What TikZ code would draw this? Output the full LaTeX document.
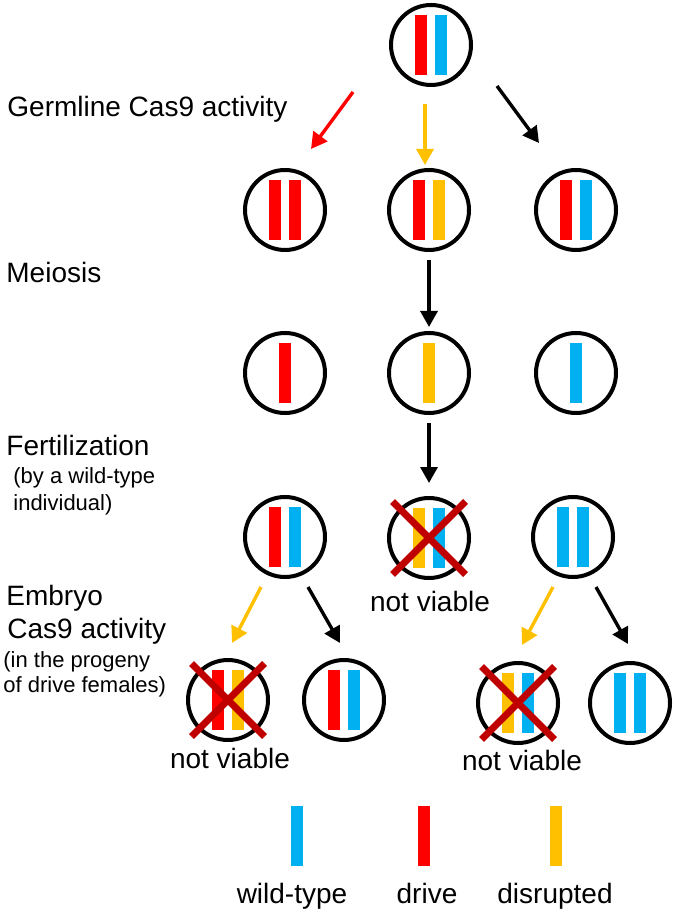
\documentclass[tikz,border=0pt]{standalone}
\usepackage{fontspec}
\setmainfont{Liberation Sans}
\usetikzlibrary{arrows.meta,positioning,shapes.misc}

\definecolor{wild}{HTML}{00B0F0}
\definecolor{drive}{HTML}{FF0000}
\definecolor{disrupt}{HTML}{FFC000}
\definecolor{dead}{HTML}{C00000}

% two chromosomes side by side in a cell
\newcommand{\twobars}[3]{%
  \node[bar, fill=#2, left=2pt of #1.center] (#1-l) {};
  \node[bar, fill=#3, right=2pt of #1.center] (#1-r) {};}
% one chromosome in a gamete
\newcommand{\onebar}[2]{%
  \node[bar, fill=#2] (#1-m) at (#1.center) {};}

\begin{document}
\begin{tikzpicture}[
    x=0.5pt, y=-0.5pt,
    cell/.style={
        circle,
        draw,
        line width=2pt,
        minimum size=40pt,
        inner sep=0pt
    },
    bar/.style={
        rectangle,
        inner sep=0pt,
        minimum width=6pt,
        minimum height=30pt
    },
    nogo/.style={
        cross out,
        draw=dead,
        line width=3.5pt,
        minimum size=33pt,
        inner sep=0pt
    },
    txt/.style={font=\fontsize{14}{17}\selectfont, inner sep=0pt},
    smalltxt/.style={font=\fontsize{11}{13}\selectfont, inner sep=0pt},
    arr/.style={-{Triangle[length=8pt,width=8.5pt]}, line width=1.7pt}
]
\useasboundingbox (0,0) rectangle (677,913);

% Stage labels on the left
\node[txt, anchor=base west] (germ) at (7,117) {Germline Cas9 activity};
\node[txt, anchor=base west] (meio) at (6,283) {Meiosis};
\node[txt, anchor=base west] (fert) at (6,455) {Fertilization};
\node[smalltxt, anchor=base west] (fert1) at (13,483) {(by a wild-type};
\node[smalltxt, anchor=base west] (fert2) at (13,510) {individual)};
\node[txt, anchor=base west] (emb) at (6,605) {Embryo};
\node[txt, anchor=base west] (emb1) at (7,638) {Cas9 activity};
\node[smalltxt, anchor=base west] (emb2) at (3,667) {(in the progeny};
\node[smalltxt, anchor=base west] (emb3) at (3,692) {of drive females)};

% Parent
\node[cell] (par) at (431,45) {}; \twobars{par}{drive}{wild}

% After germline cutting
\node[cell] (gA) at (285,210) {}; \twobars{gA}{drive}{drive}
\node[cell] (gB) at (429,210) {}; \twobars{gB}{drive}{disrupt}
\node[cell] (gC) at (576,210) {}; \twobars{gC}{drive}{wild}

% Gametes
\node[cell] (mA) at (285,373) {}; \onebar{mA}{drive}
\node[cell] (mB) at (429,373) {}; \onebar{mB}{disrupt}
\node[cell] (mC) at (576,373) {}; \onebar{mC}{wild}

% Offspring
\node[cell] (fA) at (285,537) {}; \twobars{fA}{drive}{wild}
\node[cell] (fB) at (429,538) {}; \twobars{fB}{disrupt}{wild}
\node[nogo] (fBx) at (fB) {};
\node[cell] (fC) at (573,537) {}; \twobars{fC}{wild}{wild}
\node[txt, anchor=base] (nvB) at (430,611) {not viable};

% Embryo cutting
\node[cell] (eA) at (228,700) {}; \twobars{eA}{drive}{disrupt}
\node[nogo] (eAx) at (eA) {};
\node[cell] (eB) at (344,700) {}; \twobars{eB}{drive}{wild}
\node[cell] (eC) at (518,703) {}; \twobars{eC}{disrupt}{wild}
\node[nogo] (eCx) at (eC) {};
\node[cell] (eD) at (630,703) {}; \twobars{eD}{wild}{wild}
\node[txt, anchor=base] (nvA) at (230,768) {not viable};
\node[txt, anchor=base] (nvC) at (522,770) {not viable};

% Arrow ends
\coordinate (gs1) at (353,92);  \coordinate (gt1) at (311,149);
\coordinate (gs2) at (425,104); \coordinate (gt2) at (425,165);
\coordinate (gs3) at (497,86);  \coordinate (gt3) at (539,143);
\coordinate (es1) at (261,587); \coordinate (et1) at (232,643);
\coordinate (es2) at (308,587); \coordinate (et2) at (340,643);
\coordinate (es3) at (553,587); \coordinate (et3) at (522,645);
\coordinate (es4) at (596,587); \coordinate (et4) at (628,644);

% Arrows
\draw[arr, drive] (gs1) -- (gt1);
\draw[arr, disrupt] (gs2) -- (gt2);
\draw[arr] (gs3) -- (gt3);
\draw[arr, shorten <=4pt, shorten >=2pt] (gB) -- (mB);
\draw[arr, shorten <=4pt, shorten >=6.5pt] (mB) -- (fB);
\draw[arr, disrupt] (es1) -- (et1);
\draw[arr] (es2) -- (et2);
\draw[arr, disrupt] (es3) -- (et3);
\draw[arr] (es4) -- (et4);

% Legend
\node[bar, fill=wild] (kW) at (297,836) {};
\node[bar, fill=drive] (kD) at (424,836) {};
\node[bar, fill=disrupt] (kX) at (556,836) {};
\node[txt, anchor=base] (kWt) at (292,903) {wild-type};
\node[txt, anchor=base] (kDt) at (427,903) {drive};
\node[txt, anchor=base] (kXt) at (555,903) {disrupted};

\end{tikzpicture}
\end{document}
